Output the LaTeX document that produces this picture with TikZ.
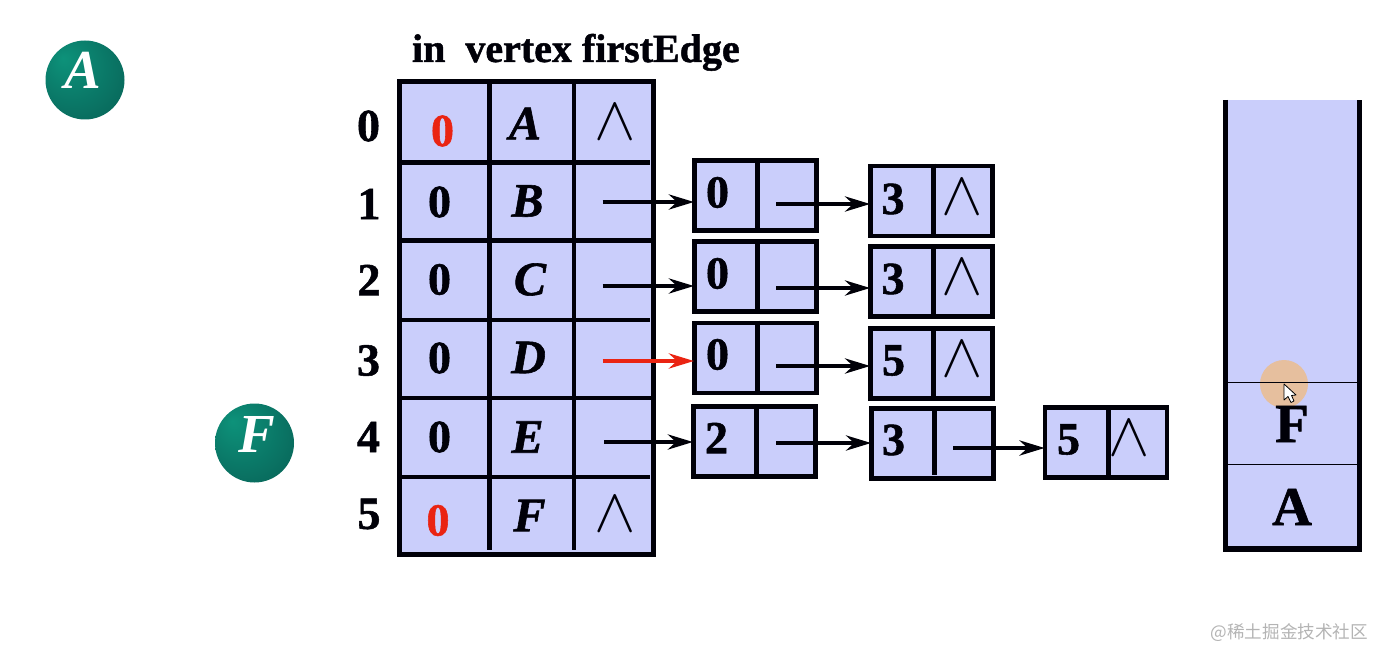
\documentclass[tikz,border=0pt]{standalone}
\usepackage{fontspec}
\usepackage{graphicx}
\setmainfont{Liberation Serif}[BoldFeatures={FakeBold=1.2},BoldItalicFeatures={FakeBold=1.2}]
\newfontfamily\ballfont{Liberation Serif}
\newfontfamily\cjkwm{Noto Sans CJK SC}
\usetikzlibrary{arrows.meta,calc}
\definecolor{cellfill}{HTML}{CACEFB}
\definecolor{inkline}{HTML}{000008}
\definecolor{redmark}{HTML}{EA2412}
\definecolor{ballhi}{HTML}{0D927A}
\definecolor{ballmid}{HTML}{0A7565}
\definecolor{balldark}{HTML}{064E46}
\definecolor{wmgray}{HTML}{B4B4B4}
\definecolor{spotlight}{HTML}{E6BF9E}
\pgfdeclareradialshading{greenball}{\pgfpoint{-14bp}{14bp}}{color(0bp)=(ballhi);color(25bp)=(ballmid);color(58bp)=(balldark)}
\tikzset{
  txt/.style={inner sep=0pt,outer sep=0pt,text=inkline},
  idxtxt/.style={txt,font=\fontsize{46}{46}\selectfont\bfseries},
  redtxt/.style={idxtxt,text=redmark},
  lettxt/.style={txt,font=\fontsize{48}{48}\selectfont\bfseries\itshape},
  stacktxt/.style={txt,font=\fontsize{55}{55}\selectfont\bfseries},
  balltxt/.style={txt,text=white,font=\fontsize{55}{55}\selectfont\ballfont\bfseries\itshape},
  nilmark/.style={txt,font=\fontsize{10}{10}\selectfont},
  heavy/.style={line width=4.7pt,draw=inkline},
  listbox/.style={rectangle,heavy,fill=cellfill,minimum width=122pt,minimum height=70pt,inner sep=0pt},
  ball/.style={circle,minimum size=79pt,inner sep=0pt,shading=greenball},
  link/.style={line width=4.6pt,draw=inkline,shorten >=-2pt,-{Stealth[length=25pt,width=15pt,inset=8pt]}},
  redlink/.style={line width=4.6pt,draw=redmark,shorten >=-2pt,-{Stealth[length=25pt,width=15pt,inset=8pt]}},
  thinrule/.style={line width=1pt,draw=inkline},
}
\newcommand{\nilsym}{\scalebox{6.2}{$\wedge$}}
\begin{document}
\begin{tikzpicture}[x=1pt,y=-1pt]
\useasboundingbox (0,0) rectangle (1375,650);
% balls
\node[ball] (ballA) at (85,80) {};
\node[balltxt] (ballAt) at (83,70) {A};
\node[ball] (ballF) at (254.5,443) {};
\node[balltxt] (ballFt) at (257,434.5) {F};
% header
\node[txt,anchor=base west,font=\fontsize{40}{40}\selectfont\bfseries] (head) at (412,62) {in\ \ vertex firstEdge};
% table
\node[rectangle,heavy,fill=cellfill,minimum width=253.9pt,minimum height=472.9pt,inner sep=0pt] (tbl) at (526.35,317.85) {};
\coordinate (v1t) at (489.5,81.4); \coordinate (v1b) at (489.5,550);
\coordinate (v2t) at (574,81.4); \coordinate (v2b) at (574,550);
\draw[heavy] (v1t) -- (v1b);
\draw[heavy] (v2t) -- (v2b);
\coordinate (r1l) at (399.4,162.5); \coordinate (r1r) at (650,162.5);
\coordinate (r2l) at (399.4,240.5); \coordinate (r2r) at (653,240.5);
\coordinate (r3l) at (399.4,320); \coordinate (r3r) at (650,320);
\coordinate (r4l) at (399.4,398); \coordinate (r4r) at (653,398);
\coordinate (r5l) at (399.4,477); \coordinate (r5r) at (650,477);
\draw[heavy] (r1l) -- (r1r);
\draw[heavy] (r2l) -- (r2r);
\draw[heavy] (r3l) -- (r3r);
\draw[heavy] (r4l) -- (r4r);
\draw[heavy] (r5l) -- (r5r);
% row indices
\node[idxtxt] (i0) at (368.5,126) {0};
\node[idxtxt] (i1) at (369,204) {1};
\node[idxtxt] (i2) at (369,280) {2};
\node[idxtxt] (i3) at (368.5,360.5) {3};
\node[idxtxt] (i4) at (368.5,437) {4};
\node[idxtxt] (i5) at (369,514) {5};
% in-degrees
\node[redtxt] (d0) at (442.5,131) {0};
\node[idxtxt] (d1) at (439.5,202) {0};
\node[idxtxt] (d2) at (439.5,279.5) {0};
\node[idxtxt] (d3) at (439.5,358) {0};
\node[idxtxt] (d4) at (439.5,437) {0};
\node[redtxt] (d5) at (438,520.5) {0};
% vertices
\node[lettxt] (vA) at (525,123.5) {A};
\node[lettxt] (vB) at (527.5,201) {B};
\node[lettxt] (vC) at (530,279.5) {C};
\node[lettxt] (vD) at (528.5,357.5) {D};
\node[lettxt] (vE) at (527.5,437) {E};
\node[lettxt] (vF) at (529.5,515.5) {F};
\node[nilmark] (n0) at (615.5,122) {\nilsym};
\node[nilmark] (n5) at (615.5,514) {\nilsym};
% first column of list boxes
\node[listbox] (a1) at (755.35,195.35) {};
\node[listbox] (a2) at (755.35,276.35) {};
\node[listbox] (a3) at (755.35,357.85) {};
\node[listbox] (a4) at (754.35,441.35) {};
% second column of list boxes
\node[listbox] (b1) at (931.5,200.85) {};
\node[listbox] (b2) at (931.5,281.35) {};
\node[listbox] (b3) at (931.5,363.35) {};
\node[listbox] (b4) at (932.5,443.35) {};
% third
\node[listbox] (c4) at (1106,442.35) {};
% dividers
\draw[heavy] (757.5,0|-a1.north) -- (757.5,0|-a1.south);
\draw[heavy] (757.5,0|-a2.north) -- (757.5,0|-a2.south);
\draw[heavy] (757.5,0|-a3.north) -- (757.5,0|-a3.south);
\draw[heavy] (756.5,0|-a4.north) -- (756.5,0|-a4.south);
\draw[heavy] (933.5,0|-b1.north) -- (933.5,0|-b1.south);
\draw[heavy] (933.5,0|-b2.north) -- (933.5,0|-b2.south);
\draw[heavy] (933.5,0|-b3.north) -- (933.5,0|-b3.south);
\coordinate (b4dt) at (934.5,408); \coordinate (b4db) at (934.5,475);
\draw[heavy] (b4dt) -- (b4db);
\draw[heavy] (1108.5,0|-c4.north) -- (1108.5,0|-c4.south);
% list texts
\node[idxtxt] (a1t) at (717.5,192.5) {0};
\node[idxtxt] (a2t) at (717.5,273.5) {0};
\node[idxtxt] (a3t) at (717.5,354.5) {0};
\node[idxtxt] (a4t) at (716.5,438) {2};
\node[idxtxt] (b1t) at (893,199) {3};
\node[idxtxt] (b2t) at (893,279) {3};
\node[idxtxt] (b3t) at (893.5,360.5) {5};
\node[idxtxt] (b4t) at (893.5,440) {3};
\node[idxtxt] (c4t) at (1068.5,439.5) {5};
\node[nilmark] (b1n) at (962,197) {\nilsym};
\node[nilmark] (b2n) at (962,277) {\nilsym};
\node[nilmark] (b3n) at (962,359) {\nilsym};
\node[nilmark] (c4n) at (1129,438) {\nilsym};
% connectors
\coordinate (s1) at (602.7,202); \coordinate (s2) at (602.7,286);
\coordinate (s3) at (602.7,361); \coordinate (s4) at (604,442);
\draw[link] (s1) -- (s1 -| a1.west);
\draw[link] (s2) -- (s2 -| a2.west);
\draw[redlink] (s3) -- (s3 -| a3.west);
\draw[link] (s4) -- (s4 -| a4.west);
\coordinate (t1) at (776,204); \coordinate (t2) at (776,288);
\coordinate (t3) at (776,366); \coordinate (t4) at (776,443);
\coordinate (u4) at (953,448);
\draw[link] (t1) -- (t1 -| b1.west);
\draw[link] (t2) -- (t2 -| b2.west);
\draw[link] (t3) -- (t3 -| b3.west);
\draw[link] (t4) -- (t4 -| b4.west);
\draw[link] (u4) -- (u4 -| c4.west);
% stack
\node[rectangle,fill=cellfill,inner sep=0pt,outer sep=0pt,minimum width=133.6pt,minimum height=449pt] (stk) at (1292.6,324.5) {};
\draw[line width=5.2pt,draw=inkline] (stk.north west) -- (stk.south west) -- (stk.south east) -- (stk.north east);
% pointer highlight
\fill[fill=spotlight] (1284,384) circle (24);
\coordinate (h1l) at (1228,382); \coordinate (h1r) at (1357,382);
\coordinate (h2l) at (1228,464.5); \coordinate (h2r) at (1357,464.5);
\draw[thinrule] (h1l) -- (h1r);
\draw[thinrule] (h2l) -- (h2r);
\node[stacktxt] (sF) at (1292,424) {F};
\node[stacktxt] (sA) at (1292,507) {A};
% cursor
\draw[line width=.8pt,draw=black,fill=white,line join=round] (1284,384) -- (1284,400) -- (1288,396.5) -- (1291,402.5) -- (1294,401) -- (1291.5,395.5) -- (1296,395) -- cycle;
% watermark
\node[txt,text=wmgray,anchor=east,font=\fontsize{17.6}{18}\selectfont\cjkwm] (wm) at (1368,633) {@稀土掘金技术社区};
\end{tikzpicture}
\end{document}
